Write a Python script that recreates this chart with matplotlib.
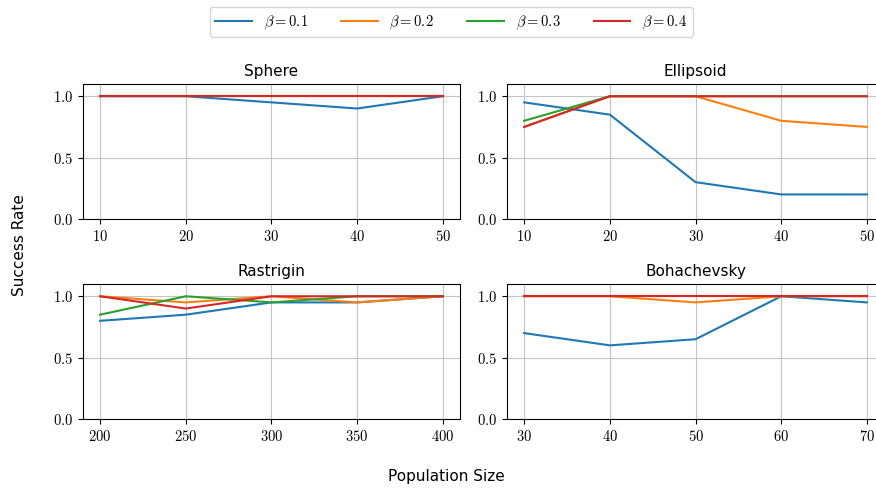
import matplotlib
matplotlib.use('Agg')
import matplotlib.pyplot as plt
from matplotlib.ticker import FuncFormatter

# population sizes per benchmark
sphere_x = [10, 20, 30, 40, 50]
ellipsoid_x = [10, 20, 30, 40, 50]
rastrigin_x = [200, 250, 300, 350, 400]
bohachevsky_x = [30, 40, 50, 60, 70]

betas = [0.1, 0.2, 0.3, 0.4]

# success rates, one list per beta
sphere = [
    [1.0, 1.0, 0.95, 0.9, 1.0],
    [1.0, 1.0, 1.0, 1.0, 1.0],
    [1.0, 1.0, 1.0, 1.0, 1.0],
    [1.0, 1.0, 1.0, 1.0, 1.0],
]
ellipsoid = [
    [0.95, 0.85, 0.3, 0.2, 0.2],
    [0.75, 1.0, 1.0, 0.8, 0.75],
    [0.8, 1.0, 1.0, 1.0, 1.0],
    [0.75, 1.0, 1.0, 1.0, 1.0],
]
rastrigin = [
    [0.8, 0.85, 0.95, 0.95, 1.0],
    [1.0, 0.95, 1.0, 0.95, 1.0],
    [0.85, 1.0, 0.95, 1.0, 1.0],
    [1.0, 0.9, 1.0, 1.0, 1.0],
]
bohachevsky = [
    [0.7, 0.6, 0.65, 1.0, 0.95],
    [1.0, 1.0, 0.95, 1.0, 1.0],
    [1.0, 1.0, 1.0, 1.0, 1.0],
    [1.0, 1.0, 1.0, 1.0, 1.0],
]

colors = ['#1f77b4', '#ff7f0e', '#2ca02c', '#d62728']

plt.rcParams['mathtext.fontset'] = 'cm'
plt.rcParams['font.family'] = 'DejaVu Sans'

fig = plt.figure(figsize=(8.76, 4.91), dpi=100)
W = 0.4304
H = 0.275
positions = [
    [0.0947, 0.554, W, H],
    [0.5788, 0.554, W, H],
    [0.0947, 0.1466, W, H],
    [0.5788, 0.1466, W, H],
]
panels = [
    ('Sphere', sphere_x, sphere),
    ('Ellipsoid', ellipsoid_x, ellipsoid),
    ('Rastrigin', rastrigin_x, rastrigin),
    ('Bohachevsky', bohachevsky_x, bohachevsky),
]

for pos, (title, xs, data) in zip(positions, panels):
    ax = fig.add_axes(pos)
    for b, ys, c in zip(betas, data, colors):
        ax.plot(xs, ys, color=c, lw=1.5, label=r'$\beta = %.1f$' % b)
    ax.set_title(title, fontsize=11, pad=6)
    ax.set_ylim(0, 1.1)
    ax.set_xticks(xs)
    ax.set_yticks([0.0, 0.5, 1.0])
    ax.xaxis.set_major_formatter(FuncFormatter(lambda v, p: r'$%g$' % v))
    ax.yaxis.set_major_formatter(FuncFormatter(lambda v, p: r'$%.1f$' % v))
    ax.tick_params(labelsize=10.5)
    ax.grid(True, color='#c4c4c4', lw=0.8)
    ax.set_axisbelow(True)

handles, labels = ax.get_legend_handles_labels()
fig.legend(handles, labels, loc='upper center', ncol=4, bbox_to_anchor=(0.515, 1.0),
           fontsize=10.5, frameon=True, columnspacing=2.3, handlelength=2.5,
           handletextpad=0.8)

fig.text(0.51, 0.03, 'Population Size', ha='center', va='center', fontsize=11)
fig.text(0.022, 0.5, 'Success Rate', ha='center', va='center', rotation=90, fontsize=11)

fig.savefig('out.png', dpi=100)
